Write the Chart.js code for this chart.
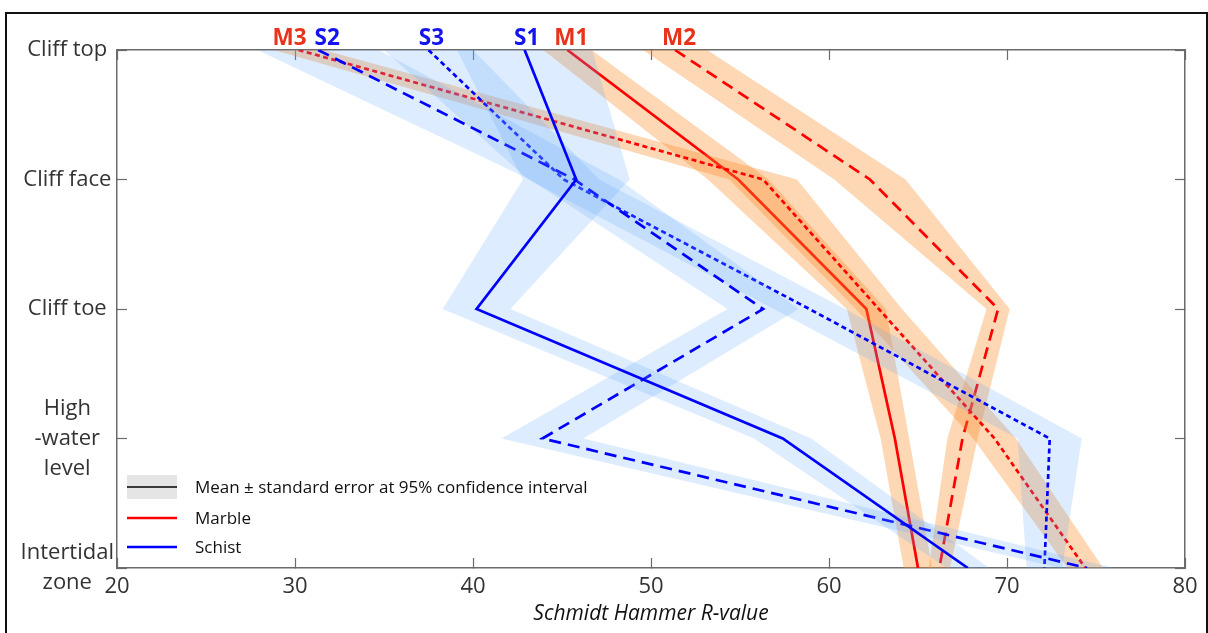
<!DOCTYPE html>
<html><head><meta charset="utf-8">
<script src="https://cdn.jsdelivr.net/npm/chart.js@4.4.1/dist/chart.umd.min.js"></script>
<style>
html,body{margin:0;padding:0;background:#fff;overflow:hidden;}
#wrap{position:relative;width:1208px;height:633px;}
#frame{position:absolute;left:5px;top:12px;width:1203px;height:700px;border:2px solid #111;box-sizing:border-box;pointer-events:none;}
</style></head><body>
<div id="wrap"><canvas id="c" width="1208" height="633"></canvas><div id="frame"></div></div>
<script>
// Levels, top to bottom, and their position on the vertical axis
const levelLabels = ['Cliff top', 'Cliff face', 'Cliff toe', ['High', '-water', 'level'], ['Intertidal', 'zone']];
const levelPos = [4, 3, 2, 1, 0];
const xTicks = [20, 30, 40, 50, 60, 70, 80];

// Mean Schmidt Hammer R-values per level (top -> bottom)
const M1 = [45.3, 54.9, 62.1, 63.7, 65.0];
const M2 = [51.35, 62.3, 69.5, 67.5, 66.2];
const M3 = [30.2, 56.3, 62.8, 69.3, 74.4];
const S1 = [42.9, 45.8, 40.2, 57.4, 67.8];
const S2 = [31.3, 45.7, 56.3, 43.9, 74.5];
const S3 = [37.5, 45.1, 58.9, 72.4, 72.1];

// Standard error at 95% confidence (half-width), per level
const M1err = [1.35, 1.7, 1.1, 0.8, 0.8];
const M2err = [1.8, 2.0, 0.65, 0.85, 0.6];
const M3err = [1.4, 1.9, 1.3, 1.2, 1.0];
const S1err = [3.8, 3.0, 1.9, 1.6, 1.2];
const S2err = [3.4, 2.5, 2.0, 2.3, 1.5];
const S3err = [2.5, 2.0, 2.0, 1.8, 1.0];

const FONT = '"Open Sans", "DejaVu Sans", sans-serif';
const RED = '#ff0000', BLUE = '#0000ff';
const ORANGE_BAND = 'rgba(253,140,40,0.35)';
const BLUE_BAND = 'rgba(100,170,250,0.22)';

const series = [
  {name: 'M1', vals: M1, err: M1err, color: RED, band: ORANGE_BAND, dash: [], labelColor: '#e8331a', nudge: 4},
  {name: 'M2', vals: M2, err: M2err, color: RED, band: ORANGE_BAND, dash: [12, 7], labelColor: '#e8331a', nudge: 4},
  {name: 'M3', vals: M3, err: M3err, color: RED, band: ORANGE_BAND, dash: [5, 3.5], labelColor: '#e8331a', nudge: -9},
  {name: 'S3', vals: S3, err: S3err, color: BLUE, band: BLUE_BAND, dash: [5, 3.5], labelColor: '#1414ee', nudge: 3},
  {name: 'S2', vals: S2, err: S2err, color: BLUE, band: BLUE_BAND, dash: [12, 7], labelColor: '#1414ee', nudge: 9},
  {name: 'S1', vals: S1, err: S1err, color: BLUE, band: BLUE_BAND, dash: [], labelColor: '#1414ee', nudge: 2}
];

const datasets = [];
let ord = 2 * series.length;
series.forEach(s => {
  const lower = s.vals.map((v, i) => ({x: v - s.err[i], y: levelPos[i]}));
  const upper = s.vals.map((v, i) => ({x: v + s.err[i], y: levelPos[i]})).reverse();
  datasets.push({
    label: s.name + ' band', data: lower.concat(upper), showLine: true,
    borderColor: 'rgba(0,0,0,0)', borderWidth: 0, backgroundColor: s.band,
    fill: 'shape', pointRadius: 0, tension: 0, order: ord--
  });
  datasets.push({
    label: s.name, data: s.vals.map((v, i) => ({x: v, y: levelPos[i]})), showLine: true,
    borderColor: s.color, borderWidth: 2.7, borderDash: s.dash, borderCapStyle: 'butt',
    backgroundColor: s.color, fill: false, pointRadius: 0, tension: 0, order: ord--
  });
});

const axisColor = '#6b6b6b';
const gridOpts = {drawOnChartArea: false, tickLength: -10, color: axisColor, tickWidth: 1.2};
const borderOpts = {color: axisColor, width: 1.5};
const noPadX = s => { s.paddingLeft = 0; s.paddingRight = 0; };
const noPadY = s => { s.paddingTop = 0; s.paddingBottom = 0; };

const decorations = {
  id: 'decorations',
  afterDraw(chart) {
    const ctx = chart.ctx, xs = chart.scales.x, top = chart.chartArea.top;
    ctx.save();
    // series names above the plot
    ctx.font = 'bold 22.5px ' + FONT;
    ctx.textAlign = 'center';
    ctx.textBaseline = 'alphabetic';
    series.forEach(s => {
      ctx.fillStyle = s.labelColor;
      ctx.fillText(s.name, xs.getPixelForValue(s.vals[0]) + s.nudge, top - 5);
    });
    // legend
    const lx = 127, lw = 50, tx = 195;
    ctx.fillStyle = '#e5e5e5';
    ctx.fillRect(lx, 475, lw, 24);
    const rows = [
      {y: 487, color: '#000', w: 1.5, text: 'Mean \u00b1 standard error at 95% confidence interval'},
      {y: 518, color: RED, w: 2.7, text: 'Marble'},
      {y: 547, color: BLUE, w: 2.7, text: 'Schist'}
    ];
    ctx.font = '17px ' + FONT;
    ctx.textAlign = 'left';
    ctx.textBaseline = 'middle';
    rows.forEach(r => {
      ctx.strokeStyle = r.color; ctx.lineWidth = r.w;
      ctx.beginPath(); ctx.moveTo(lx, r.y); ctx.lineTo(lx + lw, r.y); ctx.stroke();
      ctx.fillStyle = '#111';
      ctx.fillText(r.text, tx, r.y + 1);
    });
    ctx.restore();
  }
};

new Chart(document.getElementById('c'), {
  type: 'scatter',
  data: {datasets},
  options: {
    responsive: false, animation: false, devicePixelRatio: 1,
    layout: {padding: {left: 0, top: 50, right: 23, bottom: 0}},
    plugins: {legend: {display: false}, tooltip: {enabled: false}},
    scales: {
      x: {
        type: 'linear', position: 'bottom', min: 20, max: 80,
        afterBuildTicks: s => { s.ticks = xTicks.map(v => ({value: v})); },
        ticks: {font: {family: FONT, size: 22}, color: '#333', padding: 16, maxRotation: 0},
        grid: gridOpts, border: borderOpts,
        title: {display: true, text: 'Schmidt Hammer R-value', color: '#111',
                font: {family: FONT, size: 21, style: 'italic'}, padding: {top: 0, bottom: 6}},
        afterFit: s => { s.height = 65; noPadX(s); }
      },
      x2: {
        type: 'linear', position: 'top', min: 20, max: 80,
        afterBuildTicks: s => { s.ticks = xTicks.map(v => ({value: v})); },
        ticks: {callback: () => '', padding: 0},
        grid: gridOpts, border: borderOpts,
        afterFit: s => { s.height = 0; noPadX(s); }
      },
      y: {
        type: 'linear', position: 'left', min: 0, max: 4,
        afterBuildTicks: s => { s.ticks = levelPos.map(v => ({value: v})); },
        ticks: {
          callback: v => levelLabels[levelPos.indexOf(v)],
          font: {family: FONT, size: 22, lineHeight: 1.36}, color: '#333',
          crossAlign: 'center', padding: 13
        },
        grid: gridOpts, border: borderOpts,
        afterFit: s => { s.width = 117; noPadY(s); }
      },
      y2: {
        type: 'linear', position: 'right', min: 0, max: 4,
        afterBuildTicks: s => { s.ticks = levelPos.map(v => ({value: v})); },
        ticks: {callback: () => '', padding: 0},
        grid: gridOpts, border: borderOpts,
        afterFit: s => { s.width = 0; noPadY(s); }
      }
    }
  },
  plugins: [decorations]
});
</script>
</body></html>
